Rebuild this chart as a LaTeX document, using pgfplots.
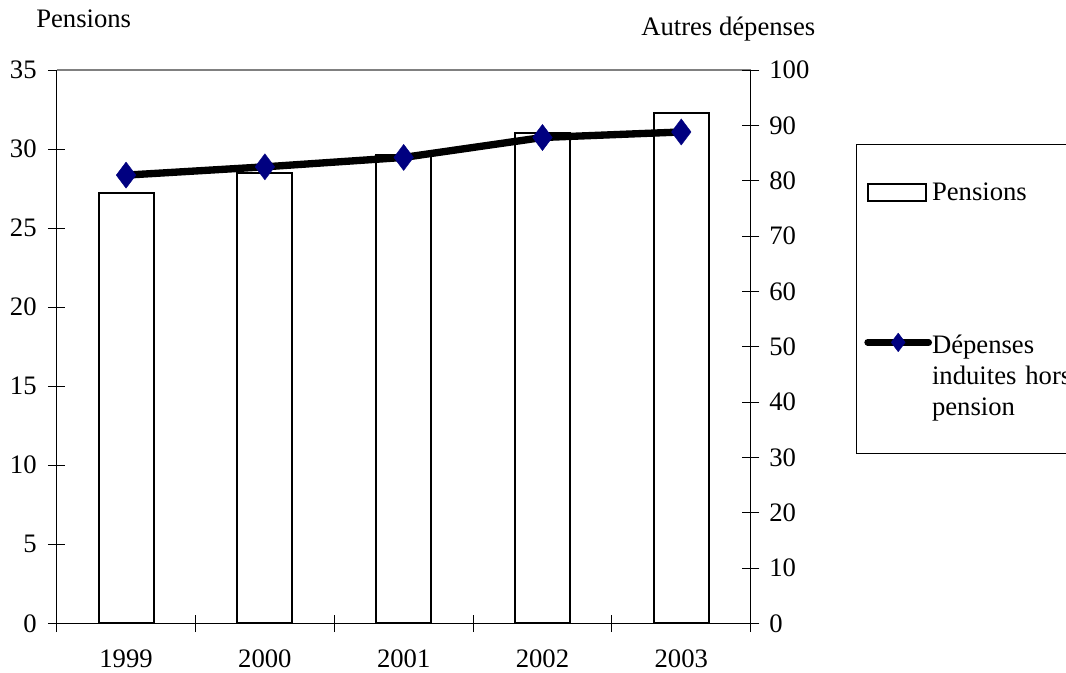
\documentclass[border=0pt]{standalone}
\usepackage{fontspec}
\setmainfont{Liberation Serif}
\usepackage{pgfplots}
\pgfplotsset{compat=1.18}

\definecolor{navy}{RGB}{0,0,128}

% Legend pictograms: an open box for the bars, a thick line with a diamond for the curve
\pgfplotsset{
  barlegend/.style={legend image code/.code={%
      \draw[##1] (0pt,-0.5pt) rectangle (43.5pt,12.5pt);}},
  linelegend/.style={legend image code/.code={%
      \draw[##1, line width=5pt, line cap=round, mark size=7pt,
            mark repeat=2, mark phase=2]
        plot coordinates {(0pt,8.25pt) (22.9pt,8.25pt) (45.75pt,8.25pt)};}},
  every axis/.append style={font=\fontsize{20}{23.25}\selectfont},
  /pgf/number format/assume math mode=true,
}

\begin{document}
\begin{tikzpicture}[font=\fontsize{20}{23.25}\selectfont]
\useasboundingbox (0,0) rectangle (799.5pt,504pt);
\clip (0,0) rectangle (799.5pt,504pt);

% Left scale: pensions (bars)
\begin{axis}[
  at={(42.5pt,36.5pt)}, anchor=south west,
  scale only axis, width=520.5pt, height=415pt,
  xmin=-0.5, xmax=4.5, ymin=0, ymax=35,
  axis x line*=bottom, axis y line*=left,
  axis line style={black, line width=0.9pt},
  xtick={0,1,2,3,4}, xticklabels={1999,2000,2001,2002,2003},
  major x tick style={draw=none},
  minor xtick={-0.5,0.5,1.5,2.5,3.5,4.5},
  ytick={0,5,...,35},
  tick align=center, major tick length=13pt, minor tick length=13pt,
  tick style={black, line width=0.6pt},
  xticklabel style={inner sep=1pt, yshift=-12pt},
  yticklabel style={xshift=-5pt},
  clip=false,
]
\addplot[ybar, bar width=41.25pt, fill=white, draw=black, line width=1.5pt]
  coordinates {(0,27.2) (1,28.5) (2,29.6) (3,31.0) (4,32.3)};
\draw[gray, line width=1.2pt] (rel axis cs:0,1) -- (rel axis cs:1,1);
\end{axis}

% Right scale: other expenses (line)
\begin{axis}[
  at={(42.5pt,36.5pt)}, anchor=south west,
  scale only axis, width=520.5pt, height=415pt,
  xmin=-0.5, xmax=4.5, ymin=0, ymax=100,
  axis x line=none, axis y line*=right,
  axis line style={black, line width=0.9pt},
  ytick={0,10,...,100},
  tick align=center, major tick length=13pt,
  tick style={black, line width=0.6pt},
  yticklabel style={xshift=4pt},
  clip=false,
  legend style={at={(1.1517,0.8663)}, anchor=north west,
    draw=black, line width=0.6pt, fill=white,
    inner xsep=6pt, inner ysep=0pt, row sep=-2.25pt, column sep=0pt,
    nodes={inner sep=0pt, text width=150pt, align=left,
      text height=42pt, text depth=75pt},
    cells={anchor=base west}},
]
\addlegendimage{barlegend, draw=black, fill=white, line width=1.5pt}
\addlegendentry{Pensions}
\addplot[linelegend, black, line width=5.5pt, line join=round,
  mark=diamond*, mark size=9.8pt,
  mark options={solid, draw=navy, fill=navy, line width=0.3pt}]
  coordinates {(0,81.0) (1,82.5) (2,84.2) (3,87.8) (4,88.8)};
\addlegendentry{Dépenses\\induites hors\\pension}
\end{axis}

\node[anchor=base west, inner sep=0pt] at (27pt,483pt) {Pensions};
\node[anchor=base west, inner sep=0pt] at (480.75pt,477pt) {Autres dépenses};
\end{tikzpicture}
\end{document}
